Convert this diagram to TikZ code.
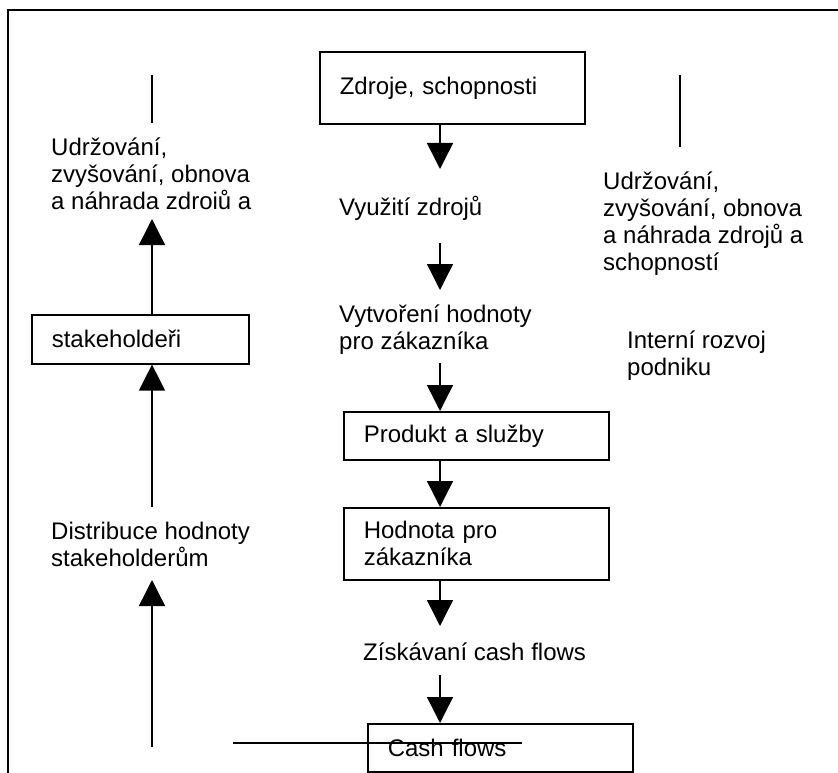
\documentclass[tikz,border=0pt]{standalone}
\usepackage{fontspec}
\setmainfont{Liberation Sans}
\usetikzlibrary{arrows.meta}
\begin{document}
\begin{tikzpicture}[x=1pt,y=-1pt,
  txt/.style={font=\fontsize{24}{27}\selectfont, align=left, inner sep=0pt, anchor=base west},
  box/.style={draw, line width=1.6pt, font=\fontsize{24}{27}\selectfont, align=left,
    inner xsep=20pt, inner ysep=0pt, minimum width=265pt, text width=225pt, anchor=north west},
  ln/.style={line width=1.4pt},
  arr/.style={line width=1.4pt, -{Triangle[length=26pt,width=26pt]}}]
\useasboundingbox (0,0) rectangle (838,773);
% frame
\draw[line width=1.8pt] (8,773) -- (8,10) -- (838,10);
% central column
\node[box, minimum height=72pt] (zdroje) at (319,51) {Zdroje, schopnosti};
\node[txt] (vyuziti) at (339,215) {Využití zdrojů};
\node[txt] (vytvoreni) at (339,349) {Vytvoření hodnoty\\pro zákazníka};
\node[box, minimum width=265pt, text width=225pt, minimum height=48pt] (produkt) at (343,411) {Produkt a služby};
\node[box, minimum height=72pt] (hodnota) at (343,507) {Hodnota pro\\zákazníka};
\node[txt] (ziskavani) at (363,660) {Získávaní cash flows};
\node[box, minimum height=48pt] (cash) at (367,723) {Cash flows};
\coordinate (a1) at (440,169);
\coordinate (b2) at (440,243);
\coordinate (a2) at (440,290);
\coordinate (b3) at (440,363);
\coordinate (b6) at (440,675);
\coordinate (a5) at (440,626);
\draw[arr] (zdroje.south -| a1) -- (a1);
\draw[arr] (b2) -- (a2);
\draw[arr] (b3) -- (produkt.north -| b3);
\draw[arr] (produkt.south -| b3) -- (hodnota.north -| b3);
\draw[arr] (hodnota.south -| b3) -- (a5);
\draw[arr] (b6) -- (cash.north -| b6);
% strike line
\coordinate (s1) at (233,743);
\coordinate (s2) at (522,743);
\draw[ln] (s1) -- (s2);
% left column
\coordinate (l0) at (152,75);
\coordinate (l1) at (152,123);
\draw[ln] (l0) -- (l1);
\node[txt] (udrzL) at (51,209) {Udržování,\\zvyšování, obnova\\a náhrada zdroiů a};
\coordinate (l2) at (152,219);
\node[box, minimum width=217pt, text width=177pt, minimum height=49pt] (stake) at (31,314) {stakeholdeři};
\draw[arr] (stake.north -| l2) -- (l2);
\coordinate (l3) at (152,507);
\draw[arr] (l3) -- (stake.south -| l3);
\node[txt] (distr) at (51,566) {Distribuce hodnoty\\stakeholderům};
\coordinate (l4) at (152,747);
\coordinate (l5) at (152,580);
\draw[arr] (l4) -- (l5);
% right column
\coordinate (r0) at (680,75);
\coordinate (r1) at (680,147);
\draw[ln] (r0) -- (r1);
\node[txt] (udrzR) at (603,270) {Udržování,\\zvyšování, obnova\\a náhrada zdrojů a\\schopností};
\node[txt] (interni) at (627,375) {Interní rozvoj\\podniku};
\end{tikzpicture}
\end{document}
